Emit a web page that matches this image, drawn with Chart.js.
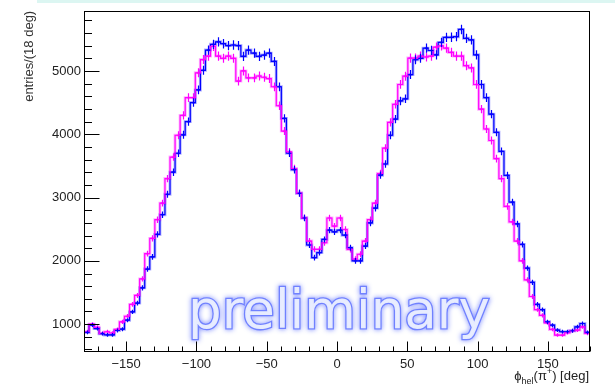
<!DOCTYPE html>
<html><head><meta charset="utf-8">
<script src="https://cdn.jsdelivr.net/npm/chart.js@4.4.0/dist/chart.umd.min.js"></script>
<style>html,body{margin:0;padding:0;background:#fff;}#wrap{width:615px;height:389px;position:relative;}</style>
</head><body><div id="wrap"><canvas id="c" width="615" height="389"></canvas></div>
<script>
// Histogram binning (axis definition)
const histMin = -180, histMax = 180;
// Bin contents, 100 bins of 3.6 deg from -180 to 180
const blueCounts = [
  870, 985, 930, 850, 830, 830, 900, 920, 1062, 1193,
  1333, 1573, 1870, 2062, 2417, 2729, 3052, 3400, 3700, 3990,
  4200, 4500, 4700, 5010, 5330, 5420, 5460, 5430, 5400, 5410,
  5400, 5230, 5330, 5280, 5230, 5250, 5280, 5150, 4750, 4250,
  3700, 3440, 3067, 2677, 2250, 2052, 2130, 2338, 2484, 2458,
  2484, 2406, 2208, 2000, 2000, 2234, 2599, 2833, 3354, 3530,
  3984, 4240, 4526, 4560, 4943, 5177, 5200, 5359, 5323, 5255,
  5450, 5530, 5531, 5542, 5656, 5515, 5490, 5255, 4786, 4578,
  4317, 4031, 3729, 3350, 2927, 2583, 2260, 1885, 1661, 1312,
  1229, 1036, 984, 906, 880, 880, 896, 958, 1010, 870
];
const magentaCounts = [
  880, 1000, 950, 854, 880, 860, 917, 1036, 1125, 1312,
  1453, 1714, 2114, 2354, 2651, 2911, 3300, 3640, 3984, 4297,
  4578, 4578, 4970, 5180, 5234, 5390, 5234, 5200, 5234, 5200,
  4840, 5000, 4890, 4890, 4920, 4900, 4880, 4750, 4450, 4050,
  3720, 3458, 3070, 2680, 2312, 2182, 2182, 2286, 2677, 2547,
  2677, 2495, 2180, 2026, 2104, 2312, 2651, 2911, 3380, 3780,
  4187, 4473, 4786, 4917, 5203, 5203, 5234, 5220, 5234, 5375,
  5396, 5359, 5292, 5234, 5234, 5083, 5047, 4786, 4396, 4083,
  3901, 3615, 3300, 2859, 2615, 2312, 2000, 1698, 1437, 1229,
  1140, 1021, 917, 828, 828, 865, 896, 906, 958, 854
];
const xTickValues = [-150, -100, -50, 0, 50, 100, 150];
const yTickValues = [1000, 2000, 3000, 4000, 5000];
const yMin = 560, yMax = 5950;
const yTitle = 'entries/(18 deg)';
const watermarkText = 'preliminary';

function histPoints(counts) {
  const w = (histMax - histMin) / counts.length;
  const pts = counts.map((c, i) => ({x: histMin + i * w, y: c}));
  pts.push({x: histMax, y: counts[counts.length - 1]});
  return pts;
}

const series = [
  {counts: magentaCounts, color: '#ff00ff', ghost: 'rgba(255,0,255,0.30)'},
  {counts: blueCounts, color: '#0000ff', ghost: 'rgba(0,0,255,0.30)'}
];

const datasets = [];
series.forEach((s, k) => {
  datasets.push({data: histPoints(s.counts), borderColor: s.color, borderWidth: 1.2,
    stepped: true, pointRadius: 0, fill: false, order: k, isMain: true, counts: s.counts});
});
series.forEach((s, k) => {
  datasets.push({data: histPoints(s.counts), borderColor: s.ghost, borderWidth: 3,
    stepped: true, pointRadius: 0, fill: false, order: 5 + k});
});

const decor = {
  id: 'decor',
  beforeDraw(chart) {
    const ctx = chart.ctx;
    ctx.save();
    ctx.fillStyle = '#fff';
    ctx.fillRect(0, 0, chart.width, chart.height);
    ctx.fillStyle = '#dcf6f2';
    ctx.fillRect(37, 0, chart.width - 37, 3);
    ctx.restore();
  },
  afterDatasetsDraw(chart) {
    const ctx = chart.ctx, xs = chart.scales.x, ys = chart.scales.y;
    const a = chart.chartArea;
    // error bars
    ctx.save();
    ctx.beginPath();
    ctx.rect(a.left, a.top, a.right - a.left, a.bottom - a.top);
    ctx.clip();
    chart.data.datasets.forEach(ds => {
      if (!ds.isMain) return;
      const n = ds.counts.length, w = (histMax - histMin) / n;
      ctx.strokeStyle = ds.borderColor;
      ctx.lineWidth = 1.2;
      ds.counts.forEach((c, i) => {
        const xc = histMin + (i + 0.5) * w;
        const px = Math.round(xs.getPixelForValue(xc)) + 0.5;
        const e = Math.sqrt(c);
        ctx.beginPath();
        ctx.moveTo(px, ys.getPixelForValue(c - e));
        ctx.lineTo(px, ys.getPixelForValue(c + e));
        ctx.stroke();
        const py = ys.getPixelForValue(c);
        ctx.beginPath();
        ctx.moveTo(px - 2, py);
        ctx.lineTo(px + 2, py);
        ctx.stroke();
      });
    });
    ctx.restore();

    // watermark
    ctx.save();
    ctx.font = '53px "DejaVu Sans"';
    ctx.textAlign = 'left';
    ctx.textBaseline = 'alphabetic';
    ctx.shadowColor = 'rgba(80,100,255,0.9)';
    ctx.shadowBlur = 5;
    ctx.lineWidth = 2.6;
    ctx.strokeStyle = '#7081ff';
    ctx.strokeText(watermarkText, 188, 328);
    ctx.shadowBlur = 0;
    ctx.fillStyle = 'rgba(236,240,255,0.95)';
    ctx.fillText(watermarkText, 188, 328);
    ctx.restore();
  },
  afterDraw(chart) {
    const ctx = chart.ctx, xs = chart.scales.x, ys = chart.scales.y;
    const a = chart.chartArea;
    ctx.save();
    ctx.strokeStyle = '#000';
    ctx.lineWidth = 1;
    // frame
    ctx.strokeRect(Math.round(a.left) + 0.5, Math.round(a.top) + 0.5,
      Math.round(a.right - a.left) - 1, Math.round(a.bottom - a.top) - 1);
    // x ticks (inward)
    const xb = Math.round(a.bottom) - 0.5;
    for (let v = histMin; v <= histMax; v += 10) {
      const major = xTickValues.includes(v);
      const px = Math.round(xs.getPixelForValue(v)) + 0.5;
      ctx.beginPath();
      ctx.moveTo(px, xb);
      ctx.lineTo(px, xb - (major ? 10 : 5));
      ctx.stroke();
    }
    // y ticks (inward)
    const yl = Math.round(a.left) + 0.5;
    for (let v = 600; v <= yMax; v += 200) {
      const major = yTickValues.includes(v);
      const py = Math.round(ys.getPixelForValue(v)) + 0.5;
      ctx.beginPath();
      ctx.moveTo(yl, py);
      ctx.lineTo(yl + (major ? 15 : 7.5), py);
      ctx.stroke();
    }
    // x title: phi_hel(pi^+) [deg]
    const parts = [
      {t: '\u03D5', size: 13, dy: 0},
      {t: 'hel', size: 9, dy: 4},
      {t: '(\u03C0', size: 13, dy: 0},
      {t: '+', size: 9, dy: -6},
      {t: ') [deg]', size: 13, dy: 0}
    ];
    ctx.fillStyle = '#222';
    ctx.textBaseline = 'alphabetic';
    ctx.textAlign = 'left';
    let total = 0;
    parts.forEach(p => { ctx.font = p.size + 'px "Liberation Sans"'; p.w = ctx.measureText(p.t).width; total += p.w; });
    let x = 589 - total;
    parts.forEach(p => { ctx.font = p.size + 'px "Liberation Sans"'; ctx.fillText(p.t, x, 380 + p.dy); x += p.w; });
    ctx.restore();
  }
};

new Chart(document.getElementById('c'), {
  type: 'line',
  data: {datasets},
  options: {
    responsive: false,
    animation: false,
    devicePixelRatio: 1,
    layout: {padding: {left: 0, top: 7, right: 25, bottom: 0}},
    plugins: {legend: {display: false}, tooltip: {enabled: false}},
    scales: {
      x: {
        type: 'linear', min: histMin, max: histMax,
        afterBuildTicks: s => { s.ticks = xTickValues.map(v => ({value: v})); },
        afterFit: s => { s.height = 37; },
        grid: {display: false, drawTicks: false},
        border: {display: false},
        ticks: {padding: 5, color: '#222', font: {family: 'Liberation Sans', size: 13},
          maxRotation: 0, autoSkip: false,
          callback: v => (v < 0 ? '\u2212' + Math.abs(v) : String(v))}
      },
      y: {
        type: 'linear', min: yMin, max: yMax,
        afterBuildTicks: s => { s.ticks = yTickValues.map(v => ({value: v})); },
        afterFit: s => { s.width = 84; },
        grid: {display: false, drawTicks: false},
        border: {display: false},
        ticks: {padding: 3, color: '#222', font: {family: 'Liberation Sans', size: 13},
          callback: v => String(v)},
        title: {display: true, text: yTitle, align: 'end', color: '#333',
          font: {family: 'Liberation Sans', size: 13}, padding: {top: 22, bottom: 0}}
      }
    }
  },
  plugins: [decor]
});
</script>
</body></html>
